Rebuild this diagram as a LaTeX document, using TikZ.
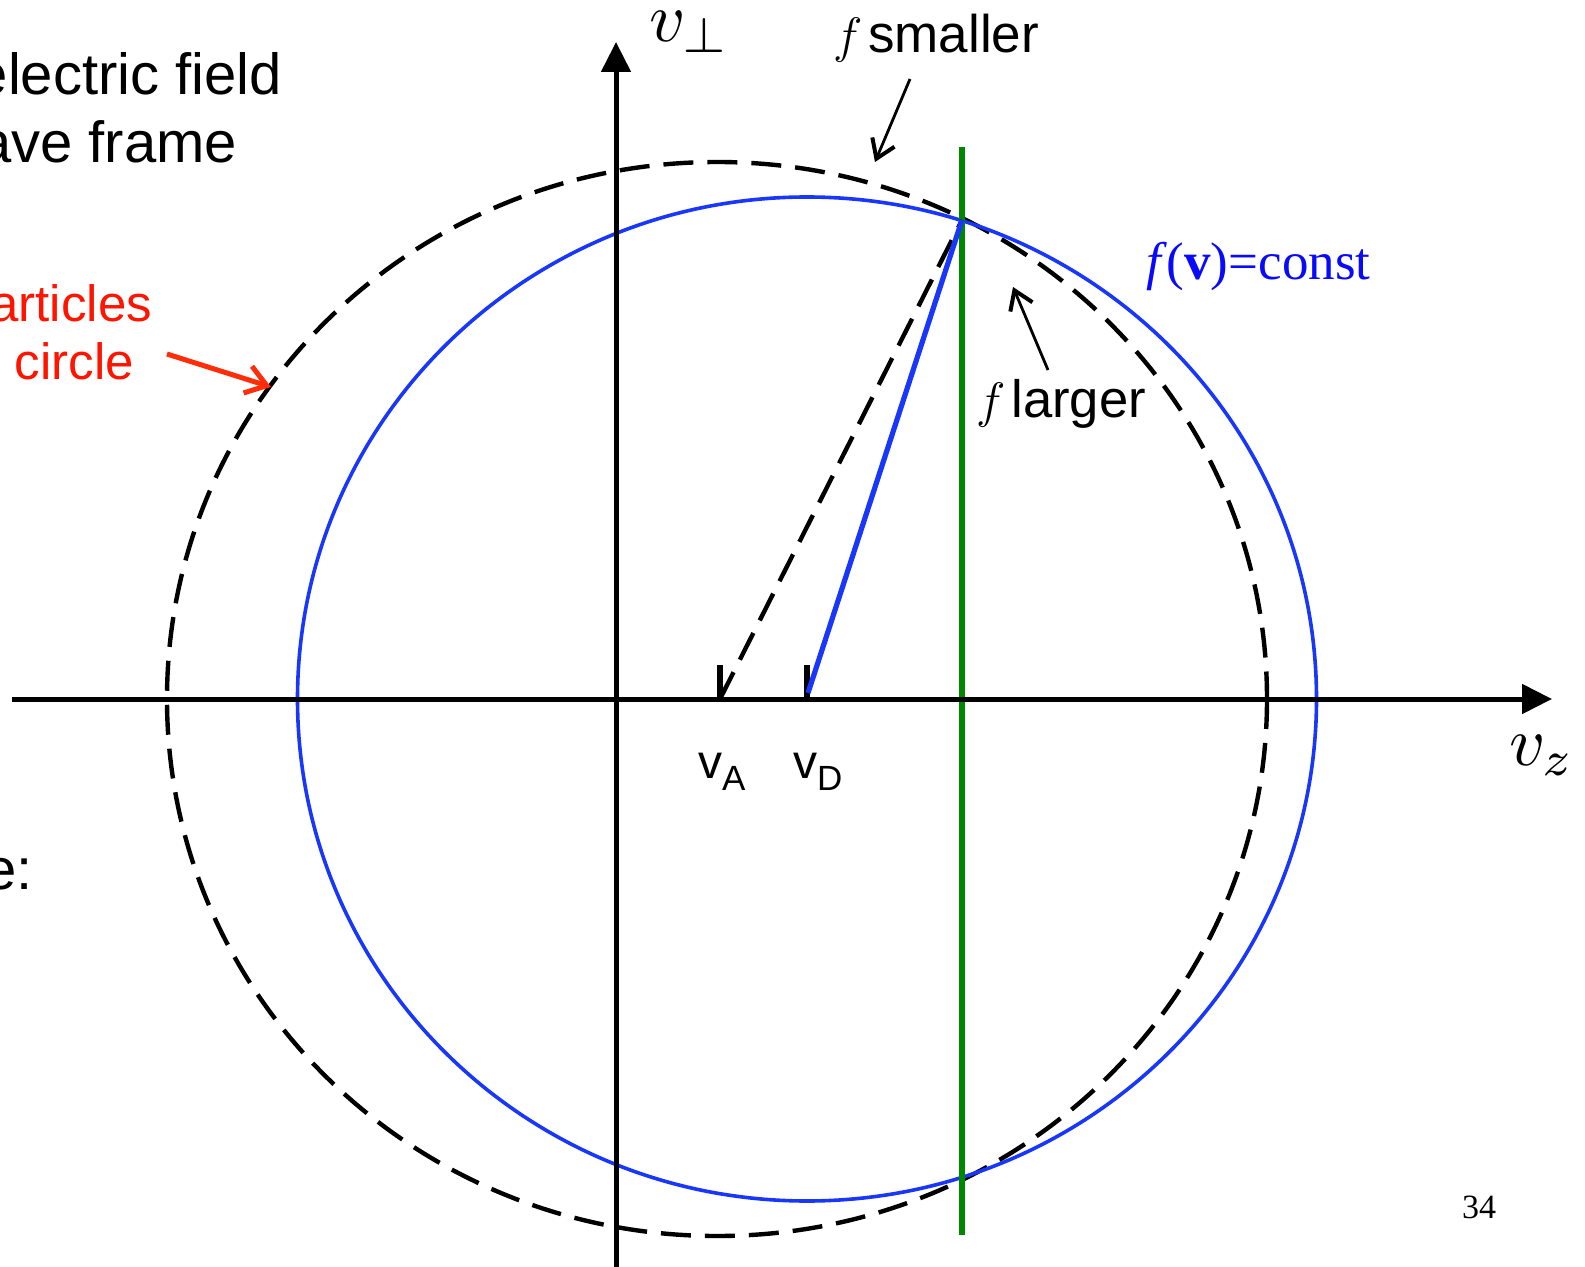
\documentclass[tikz,border=0pt]{standalone}
\usepackage{fontspec}
\setmainfont{Liberation Sans}
\newfontfamily\timesf{Liberation Serif}
\usetikzlibrary{arrows.meta}
\definecolor{cblue}{RGB}{25,55,250}
\definecolor{tblue}{RGB}{10,10,250}
\definecolor{cgreen}{RGB}{0,135,0}
\definecolor{cred}{RGB}{255,20,0}
\definecolor{ared}{RGB}{255,45,10}
\tikzset{
  axis/.style={line width=2.5pt,-{Triangle[length=15pt,width=14.5pt]}},
  dsh/.style={line width=2.2pt,dash pattern=on 15pt off 7pt},
  bluec/.style={draw=cblue,line width=1.8pt},
  callout/.style={line width=1.4pt,-{Straight Barb[length=9pt,width=12pt,line width=2pt]}},
  tick/.style={line width=2.6pt},
  lbl/.style={inner sep=0pt,outer sep=0pt},
}
\begin{document}
\begin{tikzpicture}[x=0.5pt,y=-0.5pt]
\useasboundingbox (0,0) rectangle (1585,1267);
% ellipses
\draw[dsh] (717,699) ellipse [x radius=550,y radius=537];
\draw[bluec] (807,699) ellipse [x radius=509.5,y radius=502];
% green line
\coordinate (gtop) at (962,147);
\coordinate (gbot) at (962,1235);
\draw[cgreen,line width=2.6pt] (gtop) -- (gbot);
% axes
\coordinate (xstart) at (12,699);
\coordinate (xend) at (1552,699);
\coordinate (ystart) at (616,1275);
\coordinate (yend) at (616,42);
\draw[axis] (xstart) -- (xend);
\draw[axis] (ystart) -- (yend);
% ticks
\coordinate (vA) at (720,699);
\coordinate (vAt) at (720,665);
\coordinate (vD) at (807,699);
\coordinate (vDt) at (807,665);
\draw[tick] (vA) -- (vAt);
\draw[tick] (vD) -- (vDt);
% velocity lines
\coordinate (P) at (962,220);
\coordinate (vDb) at (808,693);
\draw[dsh] (vA) -- (P);
\draw[cblue,line width=2.6pt] (vDb) -- (P);
% labels
\node[lbl,anchor=base west,scale=3.5] (vperp) at (649,42) {$v_\perp$};
\node[lbl,anchor=base west,scale=3.5] (vz) at (1509,765) {$v_z$};
\node[lbl,anchor=base west] (lA) at (698,778) {\fontsize{24}{28}\selectfont v\raisebox{-6pt}{\fontsize{17.5}{20}\selectfont A}};
\node[lbl,anchor=base west] (lD) at (793,778) {\fontsize{24}{28}\selectfont v\raisebox{-6pt}{\fontsize{17.5}{20}\selectfont D}};
\node[lbl,anchor=base west] (fsm) at (833,53) {\fontsize{26.5}{30}\selectfont $f$\hspace{3pt}smaller};
\node[lbl,anchor=base west] (flg) at (976,418) {\fontsize{26.3}{30}\selectfont $f$\hspace{3pt}larger};
\node[lbl,anchor=base west,text=tblue] (fconst) at (1146,280) {\fontsize{26.5}{30}\selectfont\timesf \textit{f}(\textbf{v})=const};
\node[lbl,anchor=base west] (pg) at (1462,1218) {\fontsize{17}{20}\selectfont\timesf 34};
\node[lbl,anchor=base east] (t1) at (282,95) {\fontsize{29}{34}\selectfont electric field};
\node[lbl,anchor=base east] (t2) at (237,163) {\fontsize{29}{34}\selectfont ave frame};
\node[lbl,anchor=base east,text=cred] (t3) at (152,322) {\fontsize{25.5}{30}\selectfont articles};
\node[lbl,anchor=base east,text=cred] (t4) at (134,380) {\fontsize{25.5}{30}\selectfont circle};
\node[lbl,anchor=base east] (t5) at (33,889) {\fontsize{29}{34}\selectfont e:};
% callout arrows
\coordinate (fsmA) at (910,79);
\coordinate (fsmB) at (875,162);
\draw[callout] (fsmA) -- (fsmB);
\coordinate (flgA) at (1048,370);
\coordinate (flgB) at (1013,287);
\draw[callout] (flgA) -- (flgB);
\coordinate (redA) at (167,354);
\coordinate (redB) at (271,387);
\draw[ared,line width=2.5pt,-{Straight Barb[length=10pt,width=14pt,line width=2.5pt]}] (redA) -- (redB);
\end{tikzpicture}
\end{document}
